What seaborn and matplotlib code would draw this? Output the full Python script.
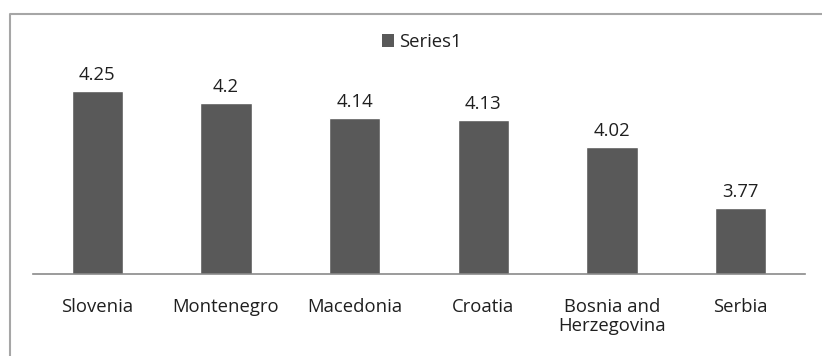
import matplotlib
matplotlib.use("Agg")
import matplotlib.pyplot as plt
import seaborn as sns
import pandas as pd
from matplotlib.lines import Line2D
from matplotlib.patches import Patch

countries = ["Slovenia", "Montenegro", "Macedonia", "Croatia", "Bosnia and\nHerzegovina", "Serbia"]
values = [4.25, 4.2, 4.14, 4.13, 4.02, 3.77]
series_name = "Series1"

sns.set_theme(style="white")
plt.rcParams['font.family'] = ['Open Sans', 'DejaVu Sans']

W, H = 822, 356
FS = 13.3
TXT = "#1f1f1f"
fig = plt.figure(figsize=(W / 100, H / 100), dpi=100)
ax = fig.add_axes([33 / W, 1 - 274 / H, (805 - 33) / W, (274 - 54) / H])

df = pd.DataFrame({"country": countries, "value": values})
bar_color = "#595959"
sns.barplot(data=df, x="country", y="value", color=bar_color, width=0.4,
            saturation=1, ax=ax, errorbar=None)

ax.set_ylim(3.5, 4.4)
ax.set_xlim(-0.5, len(countries) - 0.5)
ax.set_xlabel("")
ax.set_ylabel("")
ax.set_yticks([])
for s in ["left", "right", "top"]:
    ax.spines[s].set_visible(False)
ax.spines["bottom"].set_color("#8a8a8a")
ax.spines["bottom"].set_linewidth(1.2)
ax.tick_params(axis="x", length=0, pad=17, labelsize=FS, labelcolor=TXT)
for lbl in ax.get_xticklabels():
    lbl.set_linespacing(1.1)

for c in ax.containers:
    ax.bar_label(c, fmt="%g", padding=5, fontsize=FS, color=TXT)

handle = Patch(facecolor=bar_color, edgecolor="none")
fig.legend([handle], [series_name], loc="center", bbox_to_anchor=(422 / W, 1 - 42 / H),
           frameon=False, fontsize=FS, handlelength=0.65, handleheight=0.65,
           handletextpad=0.3, labelcolor=TXT)

# outer chart frame (partially cropped in the reference)
fig.add_artist(Line2D([9.5 / W, 9.5 / W, 1.0], [0.0, 1 - 13.5 / H, 1 - 13.5 / H],
                      transform=fig.transFigure, color="#a6a6a6", linewidth=1.5))

fig.savefig("out.png", dpi=100, facecolor="white")
